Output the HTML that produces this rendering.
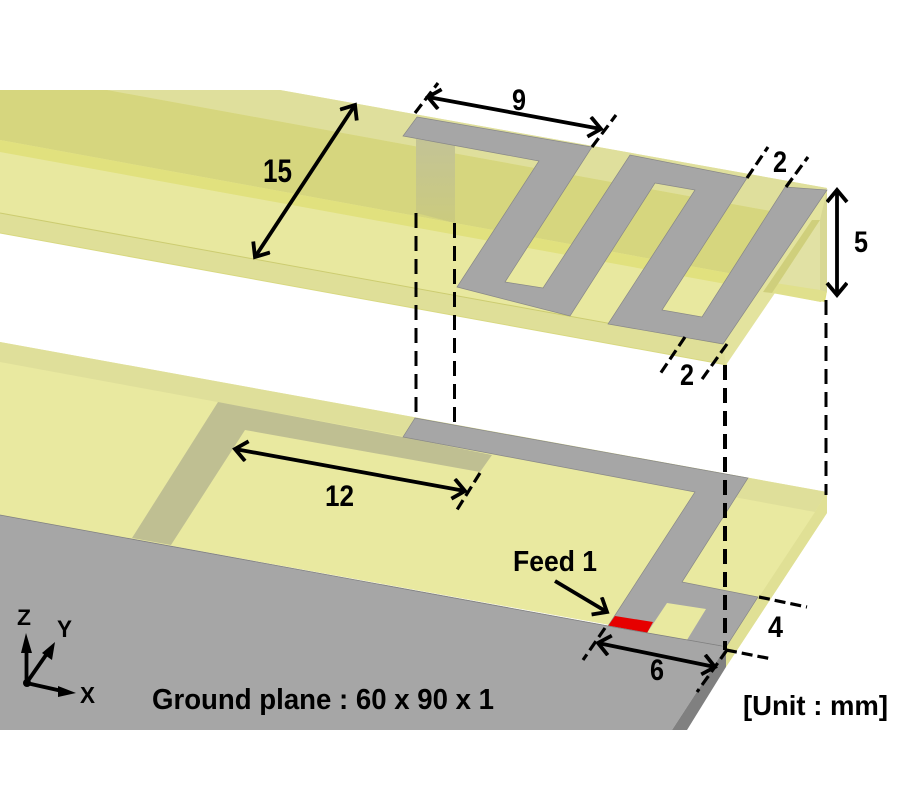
<!DOCTYPE html>
<html><head><meta charset="utf-8"><style>
html,body{margin:0;padding:0;background:#fff}
svg{display:block}
text{font-family:"Liberation Sans",sans-serif;font-weight:bold;fill:#000}
</style></head><body>
<svg width="900" height="800" viewBox="0 0 900 800" xmlns="http://www.w3.org/2000/svg">
<defs>
<marker id="a" markerUnits="userSpaceOnUse" markerWidth="26" markerHeight="26" refX="14" refY="11" orient="auto-start-reverse" viewBox="0 0 26 26">
<path d="M2 1 L14 11 L2 21" fill="none" stroke="#000" stroke-width="3.800"/>
</marker>
<linearGradient id="v" x1="0" y1="0" x2="0" y2="1">
<stop offset="0" stop-color="#c3c396"/><stop offset="1" stop-color="#cbcb7e"/>
</linearGradient>
</defs>
<rect width="900" height="800" fill="#fff"/>

<!-- upper substrate -->
<polygon points="0,90 280,90 827,188 723,344 0,213" fill="#e8e89f"/>
<polygon points="0,90 280,90 827,188 820,220 107,90" fill="#dfdf9c"/>
<polygon points="0,90 107,90 820,220 827,291 0,140" fill="#d6d67e"/>
<polygon points="0,140 827,291 825,302 0,152" fill="#e1e17e"/>
<polygon points="0,213 723,344 727,365 0,233" fill="#dfdf98"/>
<polygon points="827,190 827,292 821,302 775,293 726,365 723,344" fill="#e3e39e"/>
<polygon points="820,220 772,293 820,290" fill="#e1e1a4"/>
<polygon points="775,283 820,290 827,292 821,302 772,293" fill="#e0e08c"/>
<polygon points="812,220 820,220 772,293 763,292" fill="#cfcf7c"/>
<polygon points="820,220 827,190 827,292 820,290" fill="#d8d894"/>
<polygon points="416,139 455,145 455,223 416,213" fill="url(#v)"/>
<polyline points="0,213 723,344" fill="none" stroke="#cccc70" stroke-width="1"/>
<polyline points="0,233 727,365" fill="none" stroke="#d8d880" stroke-width="1"/>
<polygon points="417,117 592,147 505,282 543,288 630,155 747,178 662,310 702,317 785,187 827,190 723,344 608,324 695,190 655,183 570,316 457,287 539,161 403,136" fill="#a6a6a6" stroke="#888" stroke-width="0.7"/>

<!-- lower substrate -->
<polygon points="0,342 827,492 827,513 726,667 726,646 0,515" fill="#e9e9a0"/>
<polygon points="0,342 827,492 815,512 0,362" fill="#dfdf9a"/>
<polygon points="815,512 827,492 827,513 726,667 726,647" fill="#e0e095"/>
<polygon points="218,402 403,437 492,455 480,472 245,430 171,545 132,538" fill="#bfbf92"/>
<polygon points="415,418 748,478 682,582 758,597 726,647 608,626 695,492 403,437" fill="#a6a6a6" stroke="#888" stroke-width="0.7"/>
<polygon points="667,603 706,609 687,640 647,633" fill="#e9e9a0"/>
<polygon points="615,616 653,622 647,633 608,626" fill="#e60000"/>

<!-- ground -->
<polygon points="0,515 726,647 672,730 0,730" fill="#a6a6a6"/>
<polygon points="726,647 726,667 687,730 672,730" fill="#808080"/>
<polyline points="0,515 608,626 722,646" fill="none" stroke="#808080" stroke-width="0.8"/>

<!-- vertical dashed -->
<g stroke="#000" fill="none" stroke-dasharray="15 8">
<line x1="416" y1="213" x2="416" y2="417" stroke-width="3"/>
<line x1="454.500" y1="223" x2="454.500" y2="425" stroke-width="3"/>
<line x1="725" y1="365" x2="725" y2="650" stroke-width="4"/>
<line x1="826" y1="300" x2="826" y2="495" stroke-width="3"/>
</g>

<!-- ticks -->
<g stroke="#000" fill="none" stroke-width="3.200" stroke-dasharray="11 5">
<line x1="415" y1="113" x2="438" y2="83"/>
<line x1="592" y1="147" x2="616" y2="115"/>
<line x1="747" y1="178" x2="768" y2="147"/>
<line x1="786" y1="187" x2="808" y2="157"/>
<line x1="685" y1="337" x2="660" y2="374"/>
<line x1="727" y1="344" x2="700" y2="382"/>
<line x1="480" y1="473" x2="455" y2="513"/>
<line x1="605" y1="628" x2="583" y2="660"/>
<line x1="727" y1="650" x2="697" y2="692"/>
<line x1="759" y1="597" x2="807" y2="607"/>
<line x1="726" y1="650" x2="772" y2="659"/>
</g>

<!-- arrows -->
<g stroke="#000" fill="none" stroke-width="3.800">
<line x1="428" y1="97" x2="601" y2="129" marker-start="url(#a)" marker-end="url(#a)"/>
<line x1="355" y1="105" x2="255" y2="257" marker-start="url(#a)" marker-end="url(#a)"/>
<line x1="235" y1="449" x2="465" y2="491" marker-start="url(#a)" marker-end="url(#a)"/>
<line x1="837" y1="190" x2="837" y2="295" marker-start="url(#a)" marker-end="url(#a)"/>
<line x1="598" y1="643" x2="715" y2="667" marker-start="url(#a)" marker-end="url(#a)"/>
<line x1="555" y1="581" x2="607" y2="612" marker-end="url(#a)"/>
<line x1="26.500" y1="683" x2="26.500" y2="650"/>
<line x1="26.500" y1="683" x2="46" y2="655"/>
<line x1="26.500" y1="683" x2="62" y2="691"/>
</g>
<polygon points="26,633 21,653 32,653" fill="#000"/>
<polygon points="55,642 42,653 52,660" fill="#000"/>
<polygon points="76,693 58,686 58,697" fill="#000"/>
<circle cx="27" cy="683" r="4" fill="#000"/>

<!-- labels -->
<g font-size="30">
<text x="512" y="110" textLength="14" lengthAdjust="spacingAndGlyphs">9</text>
<text x="263" y="182" font-size="32" textLength="29" lengthAdjust="spacingAndGlyphs">15</text>
<text x="854" y="252" textLength="14" lengthAdjust="spacingAndGlyphs">5</text>
<text x="773" y="172" textLength="14" lengthAdjust="spacingAndGlyphs">2</text>
<text x="680" y="385" textLength="14" lengthAdjust="spacingAndGlyphs">2</text>
<text x="325" y="506" textLength="29" lengthAdjust="spacingAndGlyphs">12</text>
<text x="513" y="571" font-size="29" textLength="84" lengthAdjust="spacingAndGlyphs">Feed 1</text>
<text x="768" y="637" textLength="15" lengthAdjust="spacingAndGlyphs">4</text>
<text x="650" y="680" textLength="14" lengthAdjust="spacingAndGlyphs">6</text>
<text x="152" y="709" font-size="29" textLength="342" lengthAdjust="spacingAndGlyphs">Ground plane : 60 x 90 x 1</text>
<text x="743" y="715" font-size="28" textLength="145" lengthAdjust="spacingAndGlyphs">[Unit : mm]</text>
<text x="17" y="625" font-size="22" textLength="14" lengthAdjust="spacingAndGlyphs">Z</text>
<text x="57" y="637" font-size="24" textLength="15" lengthAdjust="spacingAndGlyphs">Y</text>
<text x="80" y="703" font-size="23" textLength="15" lengthAdjust="spacingAndGlyphs">X</text>
</g>
</svg>
</body></html>
